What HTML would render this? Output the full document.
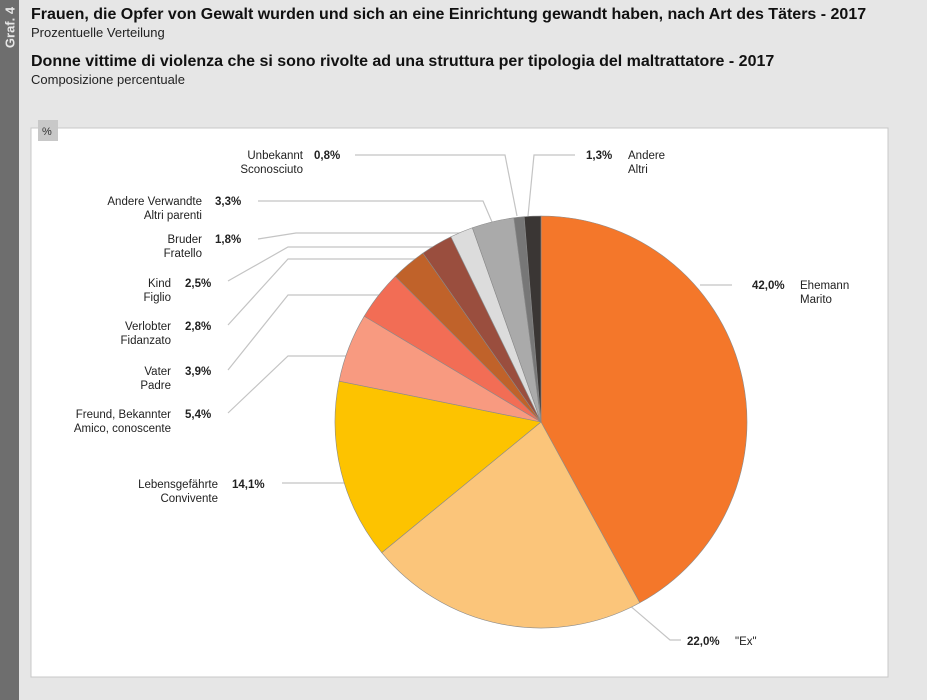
<!DOCTYPE html><html><head><meta charset="utf-8"><style>
body{margin:0;width:927px;height:700px;background:#e6e6e6;font-family:"Liberation Sans",sans-serif;overflow:hidden;position:relative}
.bar{position:absolute;left:0;top:0;width:19px;height:700px;background:#6e6e6e}
.graf{position:absolute;left:-14px;top:20px;transform:rotate(-90deg);color:#e6e6e6;font-weight:bold;font-size:13px;width:48px;text-align:center}
.t{position:absolute;left:31px;color:#111}
</style></head><body>
<div class="bar"></div><div class="graf">Graf. 4</div>
<div class="t" style="top:6px;font-size:16px;font-weight:bold">Frauen, die Opfer von Gewalt wurden und sich an eine Einrichtung gewandt haben, nach Art des Täters - 2017</div>
<div class="t" style="top:25px;font-size:13px;color:#222">Prozentuelle Verteilung</div>
<div class="t" style="top:53px;font-size:16px;font-weight:bold">Donne vittime di violenza che si sono rivolte ad una struttura per tipologia del maltrattatore - 2017</div>
<div class="t" style="top:72px;font-size:13px;color:#222">Composizione percentuale</div>
<svg width="927" height="700" style="position:absolute;left:0;top:0" font-family="Liberation Sans, sans-serif" font-size="11.5" fill="#222">
<rect x="31" y="128" width="857" height="549" fill="#fff" stroke="#c8c8c8"/>
<rect x="38" y="120" width="20" height="21" fill="#c8c8c8"/>
<text x="42" y="135" font-size="11" fill="#333">%</text>
<g stroke="#c4c4c4" fill="none" stroke-width="1.2">
<polyline points="355,155 505,155 517,216"/>
<polyline points="528,216 534,155 575,155"/>
<polyline points="258,201 483,201 492,222"/>
<polyline points="258,239 296,233 500,233"/>
<polyline points="228,281 288,247 500,247"/>
<polyline points="228,325 288,259 500,259"/>
<polyline points="228,370 288,295 500,295"/>
<polyline points="228,413 288,356 500,356"/>
<polyline points="282,483 400,483"/>
<polyline points="600,580 670,640 681,640"/>
<polyline points="700,285 732,285"/>
</g>
<g id="pie" stroke="#8a8a8a" stroke-width="0.6"></g>
<g text-anchor="end">
<text x="303" y="159">Unbekannt</text><text x="303" y="173">Sconosciuto</text>
<text x="202" y="205">Andere Verwandte</text><text x="202" y="219">Altri parenti</text>
<text x="202" y="243">Bruder</text><text x="202" y="257">Fratello</text>
<text x="171" y="287">Kind</text><text x="171" y="301">Figlio</text>
<text x="171" y="330">Verlobter</text><text x="171" y="344">Fidanzato</text>
<text x="171" y="375">Vater</text><text x="171" y="389">Padre</text>
<text x="171" y="418">Freund, Bekannter</text><text x="171" y="432">Amico, conoscente</text>
<text x="218" y="488">Lebensgefährte</text><text x="218" y="502">Convivente</text>
</g>
<g font-weight="bold">
<text x="314" y="159">0,8%</text><text x="215" y="205">3,3%</text><text x="215" y="243">1,8%</text>
<text x="185" y="287">2,5%</text><text x="185" y="330">2,8%</text><text x="185" y="375">3,9%</text>
<text x="185" y="418">5,4%</text><text x="232" y="488">14,1%</text>
<text x="586" y="159">1,3%</text><text x="752" y="289">42,0%</text><text x="687" y="645">22,0%</text>
</g>
<text x="628" y="159">Andere</text><text x="628" y="173">Altri</text>
<text x="800" y="289">Ehemann</text><text x="800" y="303">Marito</text>
<text x="735" y="645">"Ex"</text>
</svg>
<script>
var d=[[42,"#f4772a"],[22,"#fbc57a"],[14.1,"#fdc300"],[5.4,"#f89a80"],[3.9,"#f26d55"],[2.8,"#c0622a"],[2.5,"#9a4e3e"],[1.8,"#dcdcdc"],[3.3,"#aaaaaa"],[0.8,"#777777"],[1.3,"#3a3634"]];
var cx=541,cy=422,r=206,a=0,g=document.getElementById("pie"),s="";
d.forEach(function(e){var a2=a+e[0]/99.9*2*Math.PI;
var x1=cx+r*Math.sin(a),y1=cy-r*Math.cos(a),x2=cx+r*Math.sin(a2),y2=cy-r*Math.cos(a2);
s+='<path d="M'+cx+','+cy+'L'+x1+','+y1+'A'+r+','+r+' 0 '+(a2-a>Math.PI?1:0)+' 1 '+x2+','+y2+'Z" fill="'+e[1]+'"/>';a=a2;});
g.innerHTML=s;
</script>
</body></html>
